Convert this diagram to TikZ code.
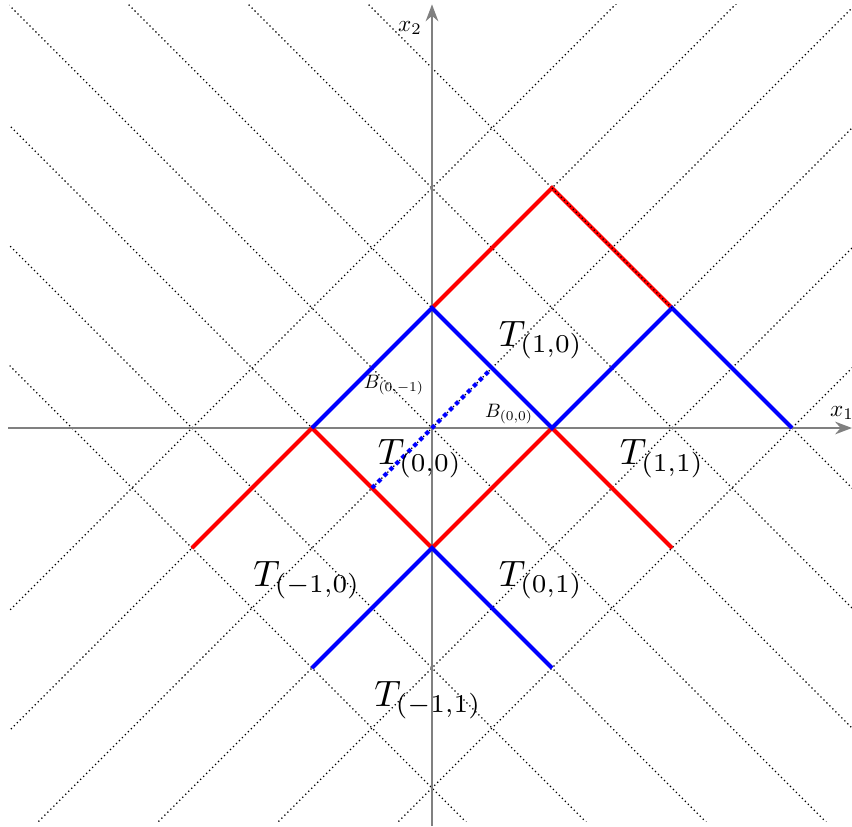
\documentclass[tikz,border=0pt]{standalone}
\usepackage{graphicx}
\usetikzlibrary{arrows.meta}
\begin{document}
\begin{tikzpicture}[
  gridline/.style={black, line width=0.3pt, dash pattern=on 0.3pt off 0.7pt},
  axisline/.style={gray, line width=0.5pt, -{Stealth[length=4pt,width=3pt]}},
  redseg/.style={red, line width=1pt},
  blueseg/.style={blue, line width=1pt},
  bluedot/.style={blue, line width=1pt, dash pattern=on 1pt off 1pt},
  bigT/.style={inner sep=0pt},
  smalllab/.style={inner sep=0pt}]
\useasboundingbox (-3.6,-3.3167) rectangle (3.5,3.5667);
% dotted grid: lines x1+x2=k and x1-x2=k
\begin{scope}
  \clip (-3.52,-3.28) rectangle (3.51,3.53);
  \foreach \k in {-3,...,3} {
    \draw[gridline] (\k-4,4) -- (\k+4,-4);
  }
  \foreach \k in {-2,...,3} {
    \draw[gridline] (\k-4,-4) -- (\k+4,4);
  }
\end{scope}
% axes
\coordinate (xs) at (-3.53,0);
\coordinate (xe) at (3.5,0);
\coordinate (ys) at (0,-3.3167);
\coordinate (ye) at (0,3.53);
\draw[axisline] (xs) -- (xe);
\draw[axisline] (ys) -- (ye);
% lattice points
\coordinate (m1z) at (-1,0);
\coordinate (zp1) at (0,1);
\coordinate (p1z) at (1,0);
\coordinate (p2p1) at (2,1);
\coordinate (p3z) at (3,0);
\coordinate (p1p2) at (1,2);
\coordinate (m2m1) at (-2,-1);
\coordinate (zm1) at (0,-1);
\coordinate (p2m1) at (2,-1);
\coordinate (m1m2) at (-1,-2);
\coordinate (p1m2) at (1,-2);
\coordinate (da) at (-0.5,-0.5);
\coordinate (db) at (0.5,0.5);
% red segments
\draw[redseg] (m2m1) -- (m1z) -- (zm1) -- (p1z) -- (p2m1);
\draw[redseg] (zp1) -- (p1p2) -- (p2p1);
% blue segments
\draw[blueseg] (m1z) -- (zp1) -- (p1z) -- (p2p1) -- (p3z);
\draw[blueseg] (m1m2) -- (zm1) -- (p1m2);
\draw[bluedot] (da) -- (db);
% grid dots that show over the red edge
\draw[gridline] (p1p2) -- (p2p1);
% labels
\node[smalllab] (lx1) at (3.417,0.125) {\scalebox{0.55}{$x_1$}};
\node[smalllab] (lx2) at (-0.183,3.333) {\scalebox{0.55}{$x_2$}};
\node[bigT] (t10) at (0.908,0.733) {\scalebox{0.87}{$T_{(1,0)}$}};
\node[bigT] (t00) at (-0.1,-0.258) {\scalebox{0.87}{$T_{(0,0)}$}};
\node[bigT] (t11) at (1.917,-0.258) {\scalebox{0.87}{$T_{(1,1)}$}};
\node[bigT] (tm10) at (-1.042,-1.267) {\scalebox{0.87}{$T_{(-1,0)}$}};
\node[bigT] (t01) at (0.908,-1.267) {\scalebox{0.87}{$T_{(0,1)}$}};
\node[bigT] (tm11) at (-0.033,-2.267) {\scalebox{0.87}{$T_{(-1,1)}$}};
\node[smalllab] (b0m1) at (-0.317,0.358) {\scalebox{0.46}{$B_{(0,-1)}$}};
\node[smalllab] (b00) at (0.642,0.117) {\scalebox{0.46}{$B_{(0,0)}$}};
\end{tikzpicture}
\end{document}
